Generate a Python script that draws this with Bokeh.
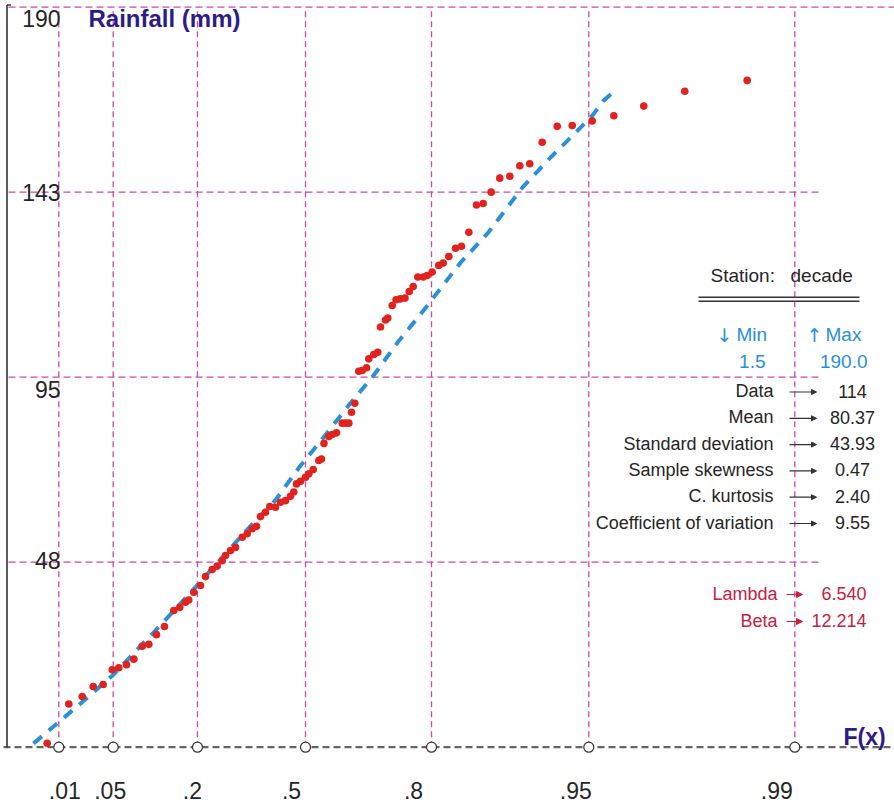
import numpy as np
from bokeh.plotting import figure
from bokeh.models import Range1d, Arrow, NormalHead
from bokeh.core.properties import value
from bokeh.embed import file_html
from bokeh.resources import INLINE

# ---------------- data ----------------
# probability paper: reduced variate (u) at which each F(x) tick sits
F_TICK_LABELS = [".01", ".05", ".2", ".5", ".8", ".95", ".99"]
F_TICK_U = [0.0, 0.739, 1.884, 3.352, 5.064, 7.201, 10.0]
Y_TICKS = [47.5, 95.0, 142.5, 190.0]
Y_TICK_LABELS = ["48", "95", "143", "190"]

# observed rainfall (mm) vs reduced variate (plotting position)
DATA_U = [-0.158, 0.136, 0.318, 0.467, 0.603, 0.726, 0.815, 0.920, 1.019, 1.133,
          1.223, 1.327, 1.436, 1.563, 1.644, 1.721, 1.766, 1.834, 1.925, 1.993,
          2.084, 2.152, 2.220, 2.265, 2.333, 2.401, 2.492, 2.560, 2.628, 2.686,
          2.740, 2.808, 2.867, 2.944, 3.012, 3.080, 3.148, 3.193, 3.230, 3.284,
          3.352, 3.397, 3.457, 3.533, 3.569, 3.603, 3.668, 3.715, 3.773, 3.851,
          3.895, 3.940, 3.977, 4.022, 4.076, 4.122, 4.181, 4.212, 4.280, 4.334,
          4.371, 4.439, 4.470, 4.530, 4.582, 4.639, 4.704, 4.761, 4.815, 4.878,
          4.951, 5.005, 5.073, 5.163, 5.223, 5.299, 5.390, 5.471, 5.571, 5.675,
          5.766, 5.875, 5.992, 6.128, 6.264, 6.399, 6.568, 6.772, 6.976, 7.247,
          7.541, 7.948, 8.505, 9.353]
DATA_RAIN = [1.0, 11.1, 13.0, 15.6, 16.1, 19.9, 20.4, 21.2, 22.6, 25.9,
             26.4, 28.9, 31.0, 35.1, 35.9, 37.2, 37.8, 39.8, 41.5, 43.8,
             45.6, 46.5, 47.9, 49.2, 50.5, 51.3, 53.9, 54.8, 56.1, 56.7,
             59.2, 60.3, 61.8, 61.6, 62.9, 63.3, 64.4, 65.5, 67.6, 68.3,
             69.3, 70.2, 71.3, 73.6, 74.0, 78.0, 79.8, 80.3, 80.7, 83.2,
             83.2, 83.2, 86.0, 88.3, 96.5, 96.7, 97.4, 99.7, 100.8, 101.4,
             107.9, 109.7, 110.2, 113.4, 114.9, 115.1, 115.3, 117.0, 118.3, 120.7,
             120.7, 121.1, 122.0, 123.7, 124.3, 126.0, 128.1, 128.6, 132.2, 139.2,
             139.6, 142.5, 146.1, 146.6, 149.3, 149.8, 155.3, 159.4, 159.6, 160.8,
             162.1, 164.6, 168.4, 171.2]

# fitted distribution (blue dashed)
FIT_U = [-0.344, 0.295, 0.730, 1.287, 1.830, 2.577, 2.944, 3.257, 3.596, 3.936,
         4.276, 4.615, 4.955, 5.458, 5.825, 6.300, 6.681, 7.048, 7.251, 7.401, 7.591]
FIT_RAIN = [0.95, 11.2, 18.4, 29.4, 40.5, 56.2, 63.4, 71.6, 79.5, 87.7,
            95.4, 104.2, 112.1, 124.4, 131.9, 143.7, 151.4, 158.3, 162.2, 166.0, 169.1]

STATION = "decade"
MIN_VAL = "1.5"
MAX_VAL = "190.0"
STAT_LABELS = ["Data", "Mean", "Standard deviation", "Sample skewness",
               "C. kurtosis", "Coefficient of variation"]
STAT_VALUES = ["114", "80.37", "43.93", "0.47", "2.40", "9.55"]
PARAM_LABELS = ["Lambda", "Beta"]
PARAM_VALUES = ["6.540", "12.214"]

# ---------------- layout ----------------
W, H = 894, 804
PX_U0, PX_PER_U = 58.3, 73.6        # screen x of u=0, pixels per unit u
PY_R0, PX_PER_MM = 746.7, 3.895     # screen y of 0 mm, pixels per mm


def u_px(px):
    return (px - PX_U0) / PX_PER_U


def py_of(r):
    return PY_R0 - r * PX_PER_MM


FONT = value("Liberation Sans")
GRID = "#d2489c"
BLUE = "#2b90d9"
RED = "#e0231e"
INDIGO = "#2d1b8a"
CRIMSON = "#c8203f"
TXT = "#262626"

p = figure(width=W, height=H, output_backend="svg", toolbar_location=None,
           x_axis_type=None, y_axis_type=None, min_border=0,
           x_range=Range1d(u_px(0), u_px(W)),
           y_range=Range1d((PY_R0 - H) / PX_PER_MM, PY_R0 / PX_PER_MM),
           outline_line_color=None, background_fill_color="white",
           border_fill_color="white")
p.extra_x_ranges = {"px": Range1d(0, W)}
p.extra_y_ranges = {"py": Range1d(H, 0)}
S = dict(x_range_name="px", y_range_name="py")

# grid
p.segment(x0=F_TICK_U, y0=[0] * len(F_TICK_U), x1=F_TICK_U, y1=[190] * len(F_TICK_U),
          line_color=GRID, line_width=1.3, line_dash="6 4")
hx1 = [u_px(818) if t < 190 else u_px(W) for t in Y_TICKS]
p.segment(x0=[u_px(8)] * len(Y_TICKS), y0=Y_TICKS, x1=hx1, y1=Y_TICKS,
          line_color=GRID, line_width=1.3, line_dash="7 4")

# x axis (dashed) and y axis
p.segment(x0=[u_px(3)], y0=[0], x1=[u_px(W)], y1=[0],
          line_color="#666666", line_width=2.3, line_dash="7 4")
p.segment(x0=[6.5, 6.5], y0=[4.5, 4.5], x1=[6.5, 10.5], y1=[747, 4.5],
          line_color="#333333", line_width=1.6, **S)

# fitted line and data
p.line(FIT_U, FIT_RAIN, line_color=BLUE, line_width=4, line_dash="11 9")
p.scatter(DATA_U, DATA_RAIN, size=7.6, fill_color=RED, line_color=None)

# tick circles
p.scatter(F_TICK_U, [0] * len(F_TICK_U), size=10, fill_color="white",
          line_color="#333333", line_width=1.2)

# titles
p.text(x=[88], y=[18], text=["Rainfall (mm)"], text_font=FONT, text_font_size=value("24px"),
       text_font_style="bold", text_color=INDIGO, text_baseline="middle", **S)
p.text(x=[843], y=[736], text=["F(x)"], text_font=FONT, text_font_size=value("23px"),
       text_font_style="bold", text_color=INDIGO, text_baseline="middle", **S)

# y tick labels
y_lab_off = [-1.5, 12, 0.5, 11.5]
p.text(x=[60] * 4, y=[py_of(t) + o for t, o in zip(Y_TICKS, y_lab_off)], text=Y_TICK_LABELS,
       text_font=FONT, text_font_size=value("23px"), text_color=TXT,
       text_align="right", text_baseline="middle", **S)

# x tick labels
x_lab_off = [6, -3, -5, -14, -18, -13, -18]
p.text(x=[PX_U0 + u * PX_PER_U + o for u, o in zip(F_TICK_U, x_lab_off)], y=[790] * 7,
       text=F_TICK_LABELS, text_font=FONT, text_font_size=value("23px"), text_color=TXT,
       text_align="center", text_baseline="middle", **S)

# statistics panel
p.text(x=[710, 790], y=[275, 275], text=["Station:", STATION], text_font=FONT,
       text_font_size=value("19px"), text_color=TXT, text_baseline="middle", **S)
p.segment(x0=[698, 698], y0=[296.7, 300.7], x1=[859, 859], y1=[296.7, 300.7],
          line_color="#333333", line_width=1.4, **S)
p.text(x=[716, 806], y=[334, 334], text=["\u2193", "\u2191"], text_font=value("DejaVu Sans"),
       text_font_size=value("19px"), text_color=BLUE, text_baseline="middle", **S)
p.text(x=[736, 825], y=[334, 334], text=["Min", "Max"], text_font=FONT,
       text_font_size=value("19px"), text_color=BLUE, text_baseline="middle", **S)
p.text(x=[765, 867], y=[361, 361], text=[MIN_VAL, MAX_VAL], text_font=FONT,
       text_font_size=value("19px"), text_color=BLUE, text_align="right",
       text_baseline="middle", **S)

row_y = [390.5 + 26.3 * i for i in range(len(STAT_LABELS))]
p.text(x=[773] * len(STAT_LABELS), y=row_y, text=STAT_LABELS, text_font=FONT,
       text_font_size=value("18px"), text_color=TXT, text_align="right",
       text_baseline="middle", **S)
p.text(x=[852] * len(STAT_VALUES), y=row_y, text=STAT_VALUES, text_font=FONT,
       text_font_size=value("18px"), text_color=TXT, text_align="center",
       text_baseline="middle", **S)
for yy in row_y:
    p.add_layout(Arrow(end=NormalHead(size=5, fill_color="#333333", line_color="#333333"),
                       x_start=789, y_start=yy + 1, x_end=816, y_end=yy + 1,
                       line_color="#333333", line_width=1.2, **S))

par_y = [593, 620]
p.text(x=[777] * 2, y=par_y, text=PARAM_LABELS, text_font=FONT,
       text_font_size=value("18px"), text_color=CRIMSON, text_align="right",
       text_baseline="middle", **S)
p.text(x=[866] * 2, y=par_y, text=PARAM_VALUES, text_font=FONT,
       text_font_size=value("18px"), text_color=CRIMSON, text_align="right",
       text_baseline="middle", **S)
for yy in par_y:
    p.add_layout(Arrow(end=NormalHead(size=6, fill_color=CRIMSON, line_color=CRIMSON),
                       x_start=786, y_start=yy + 1, x_end=802, y_end=yy + 1,
                       line_color=CRIMSON, line_width=1.2, **S))

open("out.html", "w").write(file_html(p, INLINE))
